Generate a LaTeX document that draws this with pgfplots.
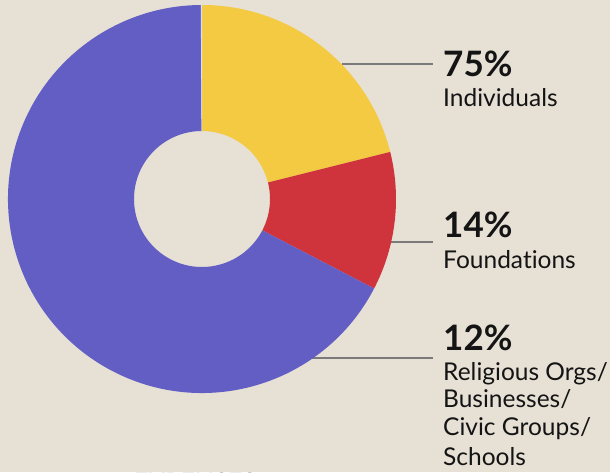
\documentclass[border=0pt]{standalone}
\usepackage{fontspec}
\setmainfont{Lato}[Ligatures=NoCommon]
\usepackage{pgfplots}
\usepackage{pgfplotstable}
\pgfplotsset{compat=1.18}

\definecolor{bg}{RGB}{230,224,213}
\definecolor{donutyel}{RGB}{243,202,66}
\definecolor{donutred}{RGB}{207,52,60}
\definecolor{donutpur}{RGB}{98,94,196}
\definecolor{donutgap}{RGB}{222,220,238}
\definecolor{leader}{RGB}{122,122,122}

% slice shares in percent, clockwise from 12 o'clock
\pgfplotstableread{
pct   col
21.1  donutyel
11.53 donutred
67.27 donutpur
0.1   donutgap
}\slices

\newcommand\pctfont{\fontsize{35}{35}\selectfont\bfseries}
\newcommand\labfont{\fontsize{24.5}{28}\selectfont}
\tikzset{lab/.style={inner sep=0pt, anchor=base west, text=black!92}}

\begin{document}
\begin{tikzpicture}
\useasboundingbox (0,0) rectangle (610pt,472pt);
\fill[bg] (0,0) rectangle (610pt,472pt);
\begin{scope}
\clip (0,0) rectangle (610pt,472pt);
\begin{axis}[
  at={(0,0)}, anchor=south west,
  scale only axis, width=610pt, height=472pt,
  xmin=0, xmax=610, ymin=0, ymax=472,
  hide axis, clip=false
]
% leader lines
\draw[leader, line width=1.2pt] (axis cs:342,408) -- (axis cs:433,408);
\draw[leader, line width=1.2pt] (axis cs:390,230) -- (axis cs:433,230);
\draw[leader, line width=1.2pt] (axis cs:312,114) -- (axis cs:433,114);

\pgfplotsextra{
  \global\def\angA{90}
  \pgfplotstablegetrowsof{\slices}
  \pgfmathtruncatemacro\nrows{\pgfplotsretval-1}
  \foreach \i in {0,...,\nrows}{
    \pgfplotstablegetelem{\i}{pct}\of\slices \let\p\pgfplotsretval
    \pgfplotstablegetelem{\i}{col}\of\slices \let\c\pgfplotsretval
    \pgfmathsetmacro\angB{\angA-3.6*\p}
    \fill[\c, shift={(axis cs:202,273)}]
      (\angA:194pt) arc[start angle=\angA, end angle=\angB, radius=194pt]
      -- (\angB:68pt) arc[start angle=\angB, end angle=\angA, radius=68pt]
      -- cycle;
    \global\let\angA\angB
  }
}

\node[lab, font=\pctfont] at (axis cs:443,395) {75\%};
\node[lab, font=\labfont] at (axis cs:443,365) {Individuals};
\node[lab, font=\pctfont] at (axis cs:443,234) {14\%};
\node[lab, font=\labfont] at (axis cs:443,204) {Foundations};
\node[lab, font=\pctfont] at (axis cs:443,122) {12\%};
\node[lab, font=\labfont] at (axis cs:443,92) {Religious Orgs/};
\node[lab, font=\labfont] at (axis cs:443,65) {Businesses/};
\node[lab, font=\labfont] at (axis cs:443,37) {Civic Groups/};
\node[lab, font=\labfont] at (axis cs:443,7) {Schools};
\node[lab, font=\fontsize{25}{25}\selectfont\bfseries] at (axis cs:134,-19) {EXPENSES};
\end{axis}
\end{scope}
\end{tikzpicture}
\end{document}
